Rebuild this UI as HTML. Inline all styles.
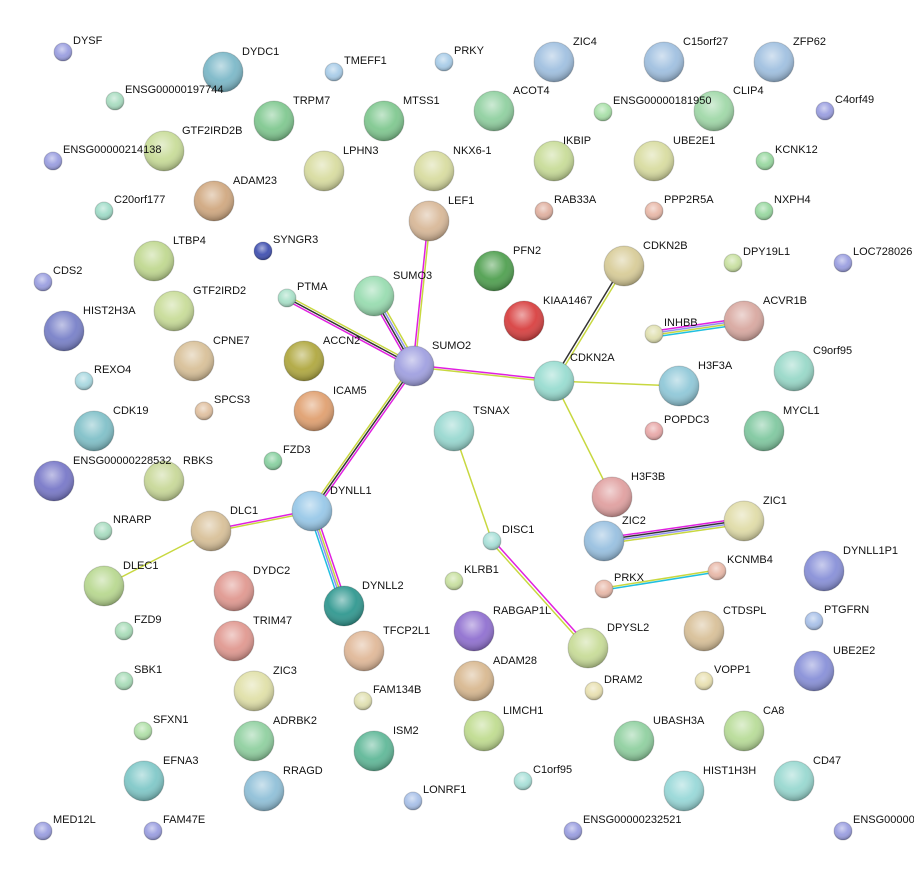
<!DOCTYPE html>
<html><head><meta charset="utf-8"><style>
html,body{margin:0;padding:0;background:#fff;}
svg{display:block}
text{font-family:"Liberation Sans",sans-serif;font-size:11px;fill:#111}
</style></head><body>
<svg width="914" height="877" viewBox="0 0 914 877" xmlns="http://www.w3.org/2000/svg">
<defs>
<radialGradient id="g" cx="45%" cy="35%" r="65%">
<stop offset="0" stop-color="#fff" stop-opacity="0.55"/>
<stop offset="0.55" stop-color="#fff" stop-opacity="0.05"/>
<stop offset="1" stop-color="#000" stop-opacity="0.3"/>
</radialGradient>
<linearGradient id="h" x1="0" y1="0" x2="0" y2="1">
<stop offset="0" stop-color="#fff" stop-opacity="0.9"/>
<stop offset="1" stop-color="#fff" stop-opacity="0"/>
</linearGradient>
</defs>
<g stroke-width="1.5" fill="none">
<!-- SUMO2-PTMA -->
<line x1="415" y1="364" x2="288" y2="296" stroke="#c8d840"/>
<line x1="414" y1="366" x2="287" y2="298" stroke="#333"/>
<line x1="413" y1="368" x2="286" y2="300" stroke="#e020e0"/>
<!-- SUMO2-SUMO3 -->
<line x1="411" y1="367" x2="371" y2="297" stroke="#e020e0"/>
<line x1="413" y1="366" x2="373" y2="296" stroke="#333"/>
<line x1="415" y1="365" x2="375" y2="295" stroke="#9090f0"/>
<line x1="417" y1="364" x2="377" y2="294" stroke="#c8d840"/>
<!-- SUMO2-LEF1 -->
<line x1="413" y1="366" x2="428" y2="221" stroke="#e020e0"/>
<line x1="415" y1="366" x2="430" y2="221" stroke="#c8d840"/>
<!-- SUMO2-CDKN2A -->
<line x1="414" y1="365" x2="554" y2="380" stroke="#e020e0"/>
<line x1="414" y1="367" x2="554" y2="382" stroke="#c8d840"/>
<!-- SUMO2-DYNLL1 -->
<line x1="412" y1="365" x2="310" y2="510" stroke="#c8d840"/>
<line x1="414" y1="366" x2="312" y2="511" stroke="#333"/>
<line x1="416" y1="367" x2="314" y2="512" stroke="#e020e0"/>
<!-- CDKN2A-CDKN2B -->
<line x1="553" y1="380" x2="623" y2="265" stroke="#333"/>
<line x1="555" y1="382" x2="625" y2="267" stroke="#c8d840"/>
<line x1="554" y1="381" x2="679" y2="386" stroke="#c8d840"/>
<line x1="554" y1="381" x2="612" y2="497" stroke="#c8d840"/>
<!-- INHBB-ACVR1B -->
<line x1="654" y1="331" x2="744" y2="318" stroke="#e020e0"/>
<line x1="654" y1="333" x2="744" y2="320" stroke="#9090f0"/>
<line x1="654" y1="335" x2="744" y2="322" stroke="#c8d840"/>
<line x1="654" y1="337" x2="744" y2="324" stroke="#20c0e0"/>
<!-- TSNAX-DISC1 -->
<line x1="454" y1="431" x2="492" y2="541" stroke="#c8d840"/>
<!-- DISC1-DPYSL2 -->
<line x1="493" y1="540" x2="589" y2="647" stroke="#e020e0"/>
<line x1="491" y1="542" x2="587" y2="649" stroke="#c8d840"/>
<!-- DYNLL1-DLC1 -->
<line x1="312" y1="510" x2="211" y2="530" stroke="#e020e0"/>
<line x1="312" y1="512" x2="211" y2="532" stroke="#c8d840"/>
<line x1="211" y1="531" x2="104" y2="586" stroke="#c8d840"/>
<!-- DYNLL1-DYNLL2 -->
<line x1="315" y1="510" x2="347" y2="605" stroke="#e020e0"/>
<line x1="313" y1="511" x2="345" y2="606" stroke="#c8d840"/>
<line x1="311" y1="511" x2="343" y2="606" stroke="#9090f0"/>
<line x1="309" y1="512" x2="341" y2="607" stroke="#20c0e0"/>
<!-- ZIC2-ZIC1 -->
<line x1="604" y1="538" x2="744" y2="518" stroke="#e020e0"/>
<line x1="604" y1="540" x2="744" y2="520" stroke="#333"/>
<line x1="604" y1="542" x2="744" y2="522" stroke="#9090f0"/>
<line x1="604" y1="544" x2="744" y2="524" stroke="#c8d840"/>
<!-- PRKX-KCNMB4 -->
<line x1="604" y1="588" x2="717" y2="570" stroke="#c8d840"/>
<line x1="604" y1="590" x2="717" y2="572" stroke="#20c0e0"/>
</g>
<g stroke="#0000002a" stroke-width="1">
<!-- small nodes -->
<circle cx="63" cy="52" r="9" fill="#9a9ee0"/>
<circle cx="334" cy="72" r="9" fill="#a8cce8"/>
<circle cx="444" cy="62" r="9" fill="#a8cce8"/>
<circle cx="115" cy="101" r="9" fill="#a8dcc0"/>
<circle cx="603" cy="112" r="9" fill="#a8e0a8"/>
<circle cx="825" cy="111" r="9" fill="#9a9ee0"/>
<circle cx="53" cy="161" r="9" fill="#9a9ee0"/>
<circle cx="765" cy="161" r="9" fill="#98d8a0"/>
<circle cx="104" cy="211" r="9" fill="#a0dcc8"/>
<circle cx="544" cy="211" r="9" fill="#e0b0a0"/>
<circle cx="654" cy="211" r="9" fill="#e8b8a8"/>
<circle cx="764" cy="211" r="9" fill="#98d8a0"/>
<circle cx="263" cy="251" r="9" fill="#4050b0"/>
<circle cx="733" cy="263" r="9" fill="#c8e0a0"/>
<circle cx="843" cy="263" r="9" fill="#9a9ee0"/>
<circle cx="43" cy="282" r="9" fill="#9a9ee0"/>
<circle cx="287" cy="298" r="9" fill="#a8e0c8"/>
<circle cx="654" cy="334" r="9" fill="#e0e0b0"/>
<circle cx="84" cy="381" r="9" fill="#a8d8e0"/>
<circle cx="204" cy="411" r="9" fill="#e0c0a0"/>
<circle cx="654" cy="431" r="9" fill="#e8a8a8"/>
<circle cx="273" cy="461" r="9" fill="#88d0a0"/>
<circle cx="103" cy="531" r="9" fill="#a8dcc0"/>
<circle cx="492" cy="541" r="9" fill="#a8e0d8"/>
<circle cx="454" cy="581" r="9" fill="#c8e0a0"/>
<circle cx="717" cy="571" r="9" fill="#e8b8a8"/>
<circle cx="604" cy="589" r="9" fill="#e8b8a8"/>
<circle cx="124" cy="631" r="9" fill="#a8dcb8"/>
<circle cx="814" cy="621" r="9" fill="#a8c0e8"/>
<circle cx="124" cy="681" r="9" fill="#a8dcb8"/>
<circle cx="363" cy="701" r="9" fill="#e0e0b0"/>
<circle cx="594" cy="691" r="9" fill="#e8e0b0"/>
<circle cx="704" cy="681" r="9" fill="#e8e0b0"/>
<circle cx="143" cy="731" r="9" fill="#b0e0a8"/>
<circle cx="523" cy="781" r="9" fill="#a8e0d8"/>
<circle cx="413" cy="801" r="9" fill="#a8c0e8"/>
<circle cx="43" cy="831" r="9" fill="#9a9ee0"/>
<circle cx="153" cy="831" r="9" fill="#9a9ee0"/>
<circle cx="573" cy="831" r="9" fill="#9a9ee0"/>
<circle cx="843" cy="831" r="9" fill="#9a9ee0"/>
<!-- large nodes -->
<circle cx="223" cy="72" r="20" fill="#7cb8c8"/>
<circle cx="554" cy="62" r="20" fill="#a0c0e0"/>
<circle cx="664" cy="62" r="20" fill="#a0c0e0"/>
<circle cx="774" cy="62" r="20" fill="#a0c0e0"/>
<circle cx="274" cy="121" r="20" fill="#80c890"/>
<circle cx="384" cy="121" r="20" fill="#80c890"/>
<circle cx="494" cy="111" r="20" fill="#90d0a0"/>
<circle cx="714" cy="111" r="20" fill="#a0d8a8"/>
<circle cx="164" cy="151" r="20" fill="#c8dc98"/>
<circle cx="324" cy="171" r="20" fill="#d8dca0"/>
<circle cx="434" cy="171" r="20" fill="#d8dca0"/>
<circle cx="554" cy="161" r="20" fill="#c8dc98"/>
<circle cx="654" cy="161" r="20" fill="#d8dca0"/>
<circle cx="214" cy="201" r="20" fill="#d0a880"/>
<circle cx="429" cy="221" r="20" fill="#d8b898"/>
<circle cx="154" cy="261" r="20" fill="#c0d890"/>
<circle cx="494" cy="271" r="20" fill="#50a050"/>
<circle cx="624" cy="266" r="20" fill="#d8cc98"/>
<circle cx="174" cy="311" r="20" fill="#c8dc98"/>
<circle cx="374" cy="296" r="20" fill="#98dcb0"/>
<circle cx="524" cy="321" r="20" fill="#d84040"/>
<circle cx="744" cy="321" r="20" fill="#d8a8a0"/>
<circle cx="64" cy="331" r="20" fill="#7880c8"/>
<circle cx="194" cy="361" r="20" fill="#d8c098"/>
<circle cx="304" cy="361" r="20" fill="#b0a840"/>
<circle cx="414" cy="366" r="20" fill="#a0a0e0"/>
<circle cx="554" cy="381" r="20" fill="#98dcd0"/>
<circle cx="679" cy="386" r="20" fill="#90c8d8"/>
<circle cx="794" cy="371" r="20" fill="#98d8c8"/>
<circle cx="314" cy="411" r="20" fill="#e0a070"/>
<circle cx="454" cy="431" r="20" fill="#98d8d0"/>
<circle cx="94" cy="431" r="20" fill="#80c0c8"/>
<circle cx="764" cy="431" r="20" fill="#80c8a0"/>
<circle cx="54" cy="481" r="20" fill="#7878c8"/>
<circle cx="164" cy="481" r="20" fill="#c8d898"/>
<circle cx="612" cy="497" r="20" fill="#e0a0a0"/>
<circle cx="312" cy="511" r="20" fill="#98c8e8"/>
<circle cx="211" cy="531" r="20" fill="#d8c098"/>
<circle cx="744" cy="521" r="20" fill="#e0dca8"/>
<circle cx="604" cy="541" r="20" fill="#98c0e0"/>
<circle cx="824" cy="571" r="20" fill="#8890d8"/>
<circle cx="104" cy="586" r="20" fill="#b8d890"/>
<circle cx="234" cy="591" r="20" fill="#e09890"/>
<circle cx="344" cy="606" r="20" fill="#309890"/>
<circle cx="234" cy="641" r="20" fill="#e09890"/>
<circle cx="364" cy="651" r="20" fill="#e0b898"/>
<circle cx="474" cy="631" r="20" fill="#9070d0"/>
<circle cx="588" cy="648" r="20" fill="#c8dc98"/>
<circle cx="704" cy="631" r="20" fill="#d8c098"/>
<circle cx="814" cy="671" r="20" fill="#8890d8"/>
<circle cx="474" cy="681" r="20" fill="#d8b890"/>
<circle cx="254" cy="691" r="20" fill="#e0e0a8"/>
<circle cx="254" cy="741" r="20" fill="#90d0a0"/>
<circle cx="374" cy="751" r="20" fill="#60b898"/>
<circle cx="484" cy="731" r="20" fill="#c0dc90"/>
<circle cx="634" cy="741" r="20" fill="#90d0a0"/>
<circle cx="744" cy="731" r="20" fill="#b8dc98"/>
<circle cx="144" cy="781" r="20" fill="#80c8c8"/>
<circle cx="264" cy="791" r="20" fill="#90c0d8"/>
<circle cx="684" cy="791" r="20" fill="#98d8d8"/>
<circle cx="794" cy="781" r="20" fill="#98d8d0"/>
</g>
<g fill="url(#g)">
<circle cx="63" cy="52" r="9"/><circle cx="334" cy="72" r="9"/><circle cx="444" cy="62" r="9"/><circle cx="115" cy="101" r="9"/><circle cx="603" cy="112" r="9"/><circle cx="825" cy="111" r="9"/><circle cx="53" cy="161" r="9"/><circle cx="765" cy="161" r="9"/><circle cx="104" cy="211" r="9"/><circle cx="544" cy="211" r="9"/><circle cx="654" cy="211" r="9"/><circle cx="764" cy="211" r="9"/><circle cx="263" cy="251" r="9"/><circle cx="733" cy="263" r="9"/><circle cx="843" cy="263" r="9"/><circle cx="43" cy="282" r="9"/><circle cx="287" cy="298" r="9"/><circle cx="654" cy="334" r="9"/><circle cx="84" cy="381" r="9"/><circle cx="204" cy="411" r="9"/><circle cx="654" cy="431" r="9"/><circle cx="273" cy="461" r="9"/><circle cx="103" cy="531" r="9"/><circle cx="492" cy="541" r="9"/><circle cx="454" cy="581" r="9"/><circle cx="717" cy="571" r="9"/><circle cx="604" cy="589" r="9"/><circle cx="124" cy="631" r="9"/><circle cx="814" cy="621" r="9"/><circle cx="124" cy="681" r="9"/><circle cx="363" cy="701" r="9"/><circle cx="594" cy="691" r="9"/><circle cx="704" cy="681" r="9"/><circle cx="143" cy="731" r="9"/><circle cx="523" cy="781" r="9"/><circle cx="413" cy="801" r="9"/><circle cx="43" cy="831" r="9"/><circle cx="153" cy="831" r="9"/><circle cx="573" cy="831" r="9"/><circle cx="843" cy="831" r="9"/>
<circle cx="223" cy="72" r="20"/><circle cx="554" cy="62" r="20"/><circle cx="664" cy="62" r="20"/><circle cx="774" cy="62" r="20"/><circle cx="274" cy="121" r="20"/><circle cx="384" cy="121" r="20"/><circle cx="494" cy="111" r="20"/><circle cx="714" cy="111" r="20"/><circle cx="164" cy="151" r="20"/><circle cx="324" cy="171" r="20"/><circle cx="434" cy="171" r="20"/><circle cx="554" cy="161" r="20"/><circle cx="654" cy="161" r="20"/><circle cx="214" cy="201" r="20"/><circle cx="429" cy="221" r="20"/><circle cx="154" cy="261" r="20"/><circle cx="494" cy="271" r="20"/><circle cx="624" cy="266" r="20"/><circle cx="174" cy="311" r="20"/><circle cx="374" cy="296" r="20"/><circle cx="524" cy="321" r="20"/><circle cx="744" cy="321" r="20"/><circle cx="64" cy="331" r="20"/><circle cx="194" cy="361" r="20"/><circle cx="304" cy="361" r="20"/><circle cx="414" cy="366" r="20"/><circle cx="554" cy="381" r="20"/><circle cx="679" cy="386" r="20"/><circle cx="794" cy="371" r="20"/><circle cx="314" cy="411" r="20"/><circle cx="454" cy="431" r="20"/><circle cx="94" cy="431" r="20"/><circle cx="764" cy="431" r="20"/><circle cx="54" cy="481" r="20"/><circle cx="164" cy="481" r="20"/><circle cx="612" cy="497" r="20"/><circle cx="312" cy="511" r="20"/><circle cx="211" cy="531" r="20"/><circle cx="744" cy="521" r="20"/><circle cx="604" cy="541" r="20"/><circle cx="824" cy="571" r="20"/><circle cx="104" cy="586" r="20"/><circle cx="234" cy="591" r="20"/><circle cx="344" cy="606" r="20"/><circle cx="234" cy="641" r="20"/><circle cx="364" cy="651" r="20"/><circle cx="474" cy="631" r="20"/><circle cx="588" cy="648" r="20"/><circle cx="704" cy="631" r="20"/><circle cx="814" cy="671" r="20"/><circle cx="474" cy="681" r="20"/><circle cx="254" cy="691" r="20"/><circle cx="254" cy="741" r="20"/><circle cx="374" cy="751" r="20"/><circle cx="484" cy="731" r="20"/><circle cx="634" cy="741" r="20"/><circle cx="744" cy="731" r="20"/><circle cx="144" cy="781" r="20"/><circle cx="264" cy="791" r="20"/><circle cx="684" cy="791" r="20"/><circle cx="794" cy="781" r="20"/>
</g>
<g>
<text x="73" y="44">DYSF</text>
<text x="344" y="64">TMEFF1</text>
<text x="454" y="54">PRKY</text>
<text x="125" y="93">ENSG00000197744</text>
<text x="613" y="104">ENSG00000181950</text>
<text x="835" y="103">C4orf49</text>
<text x="63" y="153">ENSG00000214138</text>
<text x="775" y="153">KCNK12</text>
<text x="114" y="203">C20orf177</text>
<text x="554" y="203">RAB33A</text>
<text x="664" y="203">PPP2R5A</text>
<text x="774" y="203">NXPH4</text>
<text x="273" y="243">SYNGR3</text>
<text x="743" y="255">DPY19L1</text>
<text x="853" y="255">LOC728026</text>
<text x="53" y="274">CDS2</text>
<text x="297" y="290">PTMA</text>
<text x="664" y="326">INHBB</text>
<text x="94" y="373">REXO4</text>
<text x="214" y="403">SPCS3</text>
<text x="664" y="423">POPDC3</text>
<text x="283" y="453">FZD3</text>
<text x="113" y="523">NRARP</text>
<text x="502" y="533">DISC1</text>
<text x="464" y="573">KLRB1</text>
<text x="727" y="563">KCNMB4</text>
<text x="614" y="581">PRKX</text>
<text x="134" y="623">FZD9</text>
<text x="824" y="613">PTGFRN</text>
<text x="134" y="673">SBK1</text>
<text x="373" y="693">FAM134B</text>
<text x="604" y="683">DRAM2</text>
<text x="714" y="673">VOPP1</text>
<text x="153" y="723">SFXN1</text>
<text x="533" y="773">C1orf95</text>
<text x="423" y="793">LONRF1</text>
<text x="53" y="823">MED12L</text>
<text x="163" y="823">FAM47E</text>
<text x="583" y="823">ENSG00000232521</text>
<text x="853" y="823">ENSG00000</text>
<text x="242" y="55">DYDC1</text>
<text x="573" y="45">ZIC4</text>
<text x="683" y="45">C15orf27</text>
<text x="793" y="45">ZFP62</text>
<text x="293" y="104">TRPM7</text>
<text x="403" y="104">MTSS1</text>
<text x="513" y="94">ACOT4</text>
<text x="733" y="94">CLIP4</text>
<text x="182" y="134">GTF2IRD2B</text>
<text x="343" y="154">LPHN3</text>
<text x="453" y="154">NKX6-1</text>
<text x="563" y="144">IKBIP</text>
<text x="673" y="144">UBE2E1</text>
<text x="233" y="184">ADAM23</text>
<text x="448" y="204">LEF1</text>
<text x="173" y="244">LTBP4</text>
<text x="513" y="254">PFN2</text>
<text x="643" y="249">CDKN2B</text>
<text x="193" y="294">GTF2IRD2</text>
<text x="393" y="279">SUMO3</text>
<text x="543" y="304">KIAA1467</text>
<text x="763" y="304">ACVR1B</text>
<text x="83" y="314">HIST2H3A</text>
<text x="213" y="344">CPNE7</text>
<text x="323" y="344">ACCN2</text>
<text x="432" y="349">SUMO2</text>
<text x="570" y="361">CDKN2A</text>
<text x="698" y="369">H3F3A</text>
<text x="813" y="354">C9orf95</text>
<text x="333" y="394">ICAM5</text>
<text x="473" y="414">TSNAX</text>
<text x="113" y="414">CDK19</text>
<text x="783" y="414">MYCL1</text>
<text x="73" y="464">ENSG00000228532</text>
<text x="183" y="464">RBKS</text>
<text x="631" y="480">H3F3B</text>
<text x="330" y="494">DYNLL1</text>
<text x="230" y="514">DLC1</text>
<text x="763" y="504">ZIC1</text>
<text x="622" y="524">ZIC2</text>
<text x="843" y="554">DYNLL1P1</text>
<text x="123" y="569">DLEC1</text>
<text x="253" y="574">DYDC2</text>
<text x="362" y="589">DYNLL2</text>
<text x="253" y="624">TRIM47</text>
<text x="383" y="634">TFCP2L1</text>
<text x="493" y="614">RABGAP1L</text>
<text x="607" y="631">DPYSL2</text>
<text x="723" y="614">CTDSPL</text>
<text x="833" y="654">UBE2E2</text>
<text x="493" y="664">ADAM28</text>
<text x="273" y="674">ZIC3</text>
<text x="273" y="724">ADRBK2</text>
<text x="393" y="734">ISM2</text>
<text x="503" y="714">LIMCH1</text>
<text x="653" y="724">UBASH3A</text>
<text x="763" y="714">CA8</text>
<text x="163" y="764">EFNA3</text>
<text x="283" y="774">RRAGD</text>
<text x="703" y="774">HIST1H3H</text>
<text x="813" y="764">CD47</text>
</g>
</svg>
</body></html>
